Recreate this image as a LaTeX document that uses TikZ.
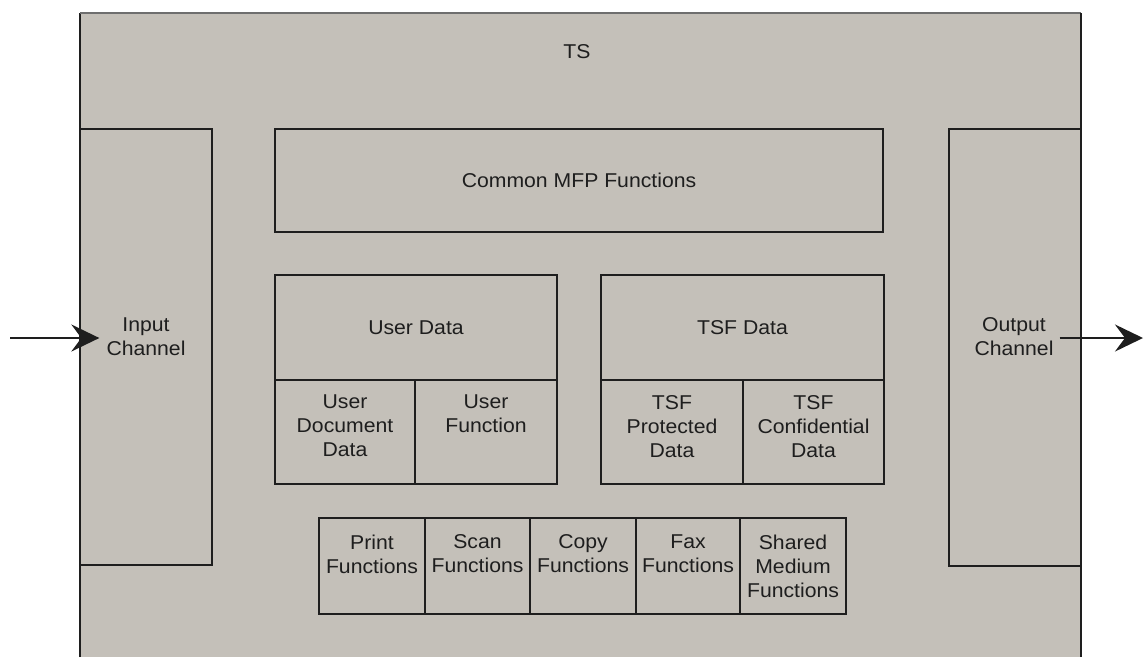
\documentclass[tikz,border=0pt]{standalone}
\usepackage{fontspec}
\setmainfont[FakeStretch=1.06]{Liberation Sans}
\usetikzlibrary{arrows.meta}
\definecolor{panel}{RGB}{196,192,185}
\definecolor{ink}{RGB}{30,30,30}
\definecolor{rim}{RGB}{110,110,110}
\begin{document}
\begin{tikzpicture}[x=1pt,y=-1pt,
  font=\fontsize{20}{24}\selectfont,
  every node/.style={text=ink},
  box/.style={draw=ink, line width=1.3pt, fill=panel, inner sep=0pt},
  label/.style={align=center, inner sep=0pt},
  flow/.style={draw=ink, line width=2.5pt,
    -{Stealth[length=28pt,width=27pt,inset=10pt]}}]
  \useasboundingbox (0,0) rectangle (1144,657);

  % TS enclosure (open at the bottom)
  \fill[panel] (80,13) rectangle (1081,657);
  \draw[ink, line width=1.3pt] (80,657) -- (80,13);
  \draw[rim, line width=1.3pt] (80,13) -- (1081,13);
  \draw[ink, line width=1.3pt] (1081,13) -- (1081,657);
  \node[label] (ts) at (577,52) {TS};

  % channels
  \node[box, minimum width=132pt, minimum height=436pt] (in) at (146,347) {};
  \node[box, minimum width=132pt, minimum height=437pt] (out) at (1015,347.5) {};
  \node[label] (inlbl) at (146,337) {Input\\Channel};
  \node[label] (outlbl) at (1014,337) {Output\\Channel};

  % common functions
  \node[box, minimum width=608pt, minimum height=103pt] (cm) at (579,180.5) {Common MFP Functions};

  % user data group
  \node[box, minimum width=282pt, minimum height=105pt] (ud) at (416,327.5) {User Data};
  \node[box, minimum width=140pt, minimum height=104pt] (udd) at (345,432) {};
  \node[box, minimum width=142pt, minimum height=104pt] (uf) at (486,432) {};
  \node[label, anchor=north] at ([yshift=-15.5pt]udd.north) {User\\Document\\Data};
  \node[label, anchor=north] at ([yshift=-15.5pt]uf.north) {User\\Function};

  % TSF data group
  \node[box, minimum width=283pt, minimum height=105pt] (td) at (742.5,327.5) {TSF Data};
  \node[box, minimum width=142pt, minimum height=104pt] (tp) at (672,432) {};
  \node[box, minimum width=141pt, minimum height=104pt] (tc) at (813.5,432) {};
  \node[label, anchor=north] at ([yshift=-15.5pt]tp.north) {TSF\\Protected\\Data};
  \node[label, anchor=north] at ([yshift=-15.5pt]tc.north) {TSF\\Confidential\\Data};

  % function row
  \node[box, minimum width=106pt, minimum height=96pt] (pr) at (372,566) {};
  \node[box, minimum width=105pt, minimum height=96pt] (sc) at (477.5,566) {};
  \node[box, minimum width=106pt, minimum height=96pt] (cp) at (583,566) {};
  \node[box, minimum width=104pt, minimum height=96pt] (fx) at (688,566) {};
  \node[box, minimum width=106pt, minimum height=96pt] (sh) at (793,566) {};
  \node[label, anchor=north] at ([yshift=-17pt]pr.north) {Print\\Functions};
  \node[label, anchor=north] at ([yshift=-17pt]sc.north) {Scan\\Functions};
  \node[label, anchor=north] at ([yshift=-17pt]cp.north) {Copy\\Functions};
  \node[label, anchor=north] at ([yshift=-17pt]fx.north) {Fax\\Functions};
  \node[label, anchor=north] at ([yshift=-17pt]sh.north) {Shared\\Medium\\Functions};

  % data flow in and out
  \coordinate (src) at (10,338);
  \coordinate (sink) at (1143,338);
  \draw[flow] (src) -- ([xshift=20pt]in.west |- src);
  \draw[flow] ([xshift=-22pt]out.east |- sink) -- (sink);
\end{tikzpicture}
\end{document}
